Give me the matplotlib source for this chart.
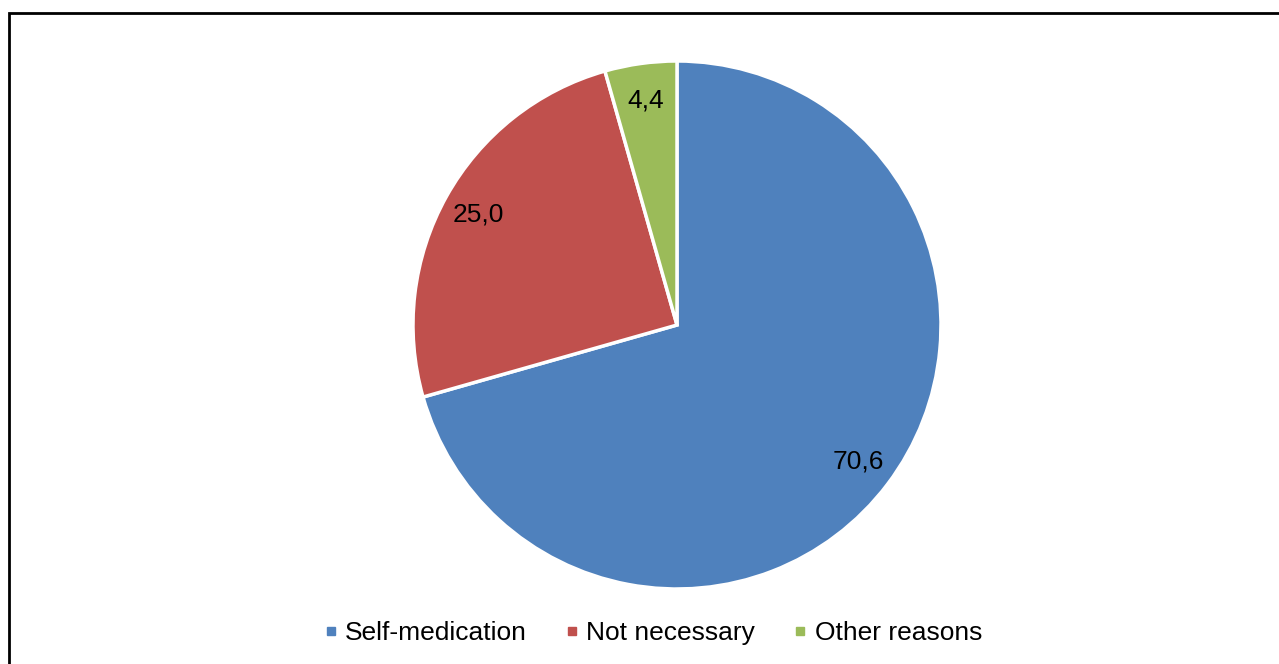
import matplotlib
matplotlib.use("Agg")
import matplotlib.pyplot as plt
from matplotlib.lines import Line2D
from matplotlib.patches import Rectangle

plt.rcParams['font.family'] = ['Liberation Sans', 'DejaVu Sans']

# reasons share, percent
categories = ["Self-medication", "Not necessary", "Other reasons"]
shares = [70.6, 25.0, 4.4]
colors = ["#4F81BD", "#C0504D", "#9BBB59"]

W, H = 1279, 664
fig = plt.figure(figsize=(W / 100, H / 100), dpi=100)

# pie centred at (677, 325) px, radius 264 px
cx, cy, r = 677, 325, 264
ax = fig.add_axes([(cx - r) / W, (H - cy - r) / H, 2 * r / W, 2 * r / H])
wedges, texts = ax.pie(
    shares, colors=colors, startangle=90, counterclock=False,
    labels=[f"{v:.1f}".replace(".", ",") for v in shares],
    labeldistance=0.86,
    wedgeprops=dict(edgecolor="white", linewidth=2.5),
    textprops=dict(fontsize=19, color="black"),
)
for t in texts:
    t.set_ha("center")
    t.set_va("center")
ax.set_xlim(-1, 1)
ax.set_ylim(-1, 1)
ax.set_aspect("equal")
ax.axis("off")

handles = [Line2D([], [], marker="s", linestyle="", markersize=6,
                  markerfacecolor=c, markeredgecolor=c) for c in colors]
fig.legend(handles, categories, loc="center", bbox_to_anchor=(651 / W, 1 - 633 / H),
           ncol=3, frameon=False, fontsize=19, handletextpad=0.15,
           columnspacing=1.3, handlelength=0.8, borderpad=0)

# outer frame, runs off the right and bottom edges
fig.add_artist(Rectangle((8.5 / W, -0.1), 1.2, 1 - 12.5 / H + 0.1,
                         transform=fig.transFigure, fill=False,
                         edgecolor="black", linewidth=2))

fig.savefig("out.png", dpi=100)
